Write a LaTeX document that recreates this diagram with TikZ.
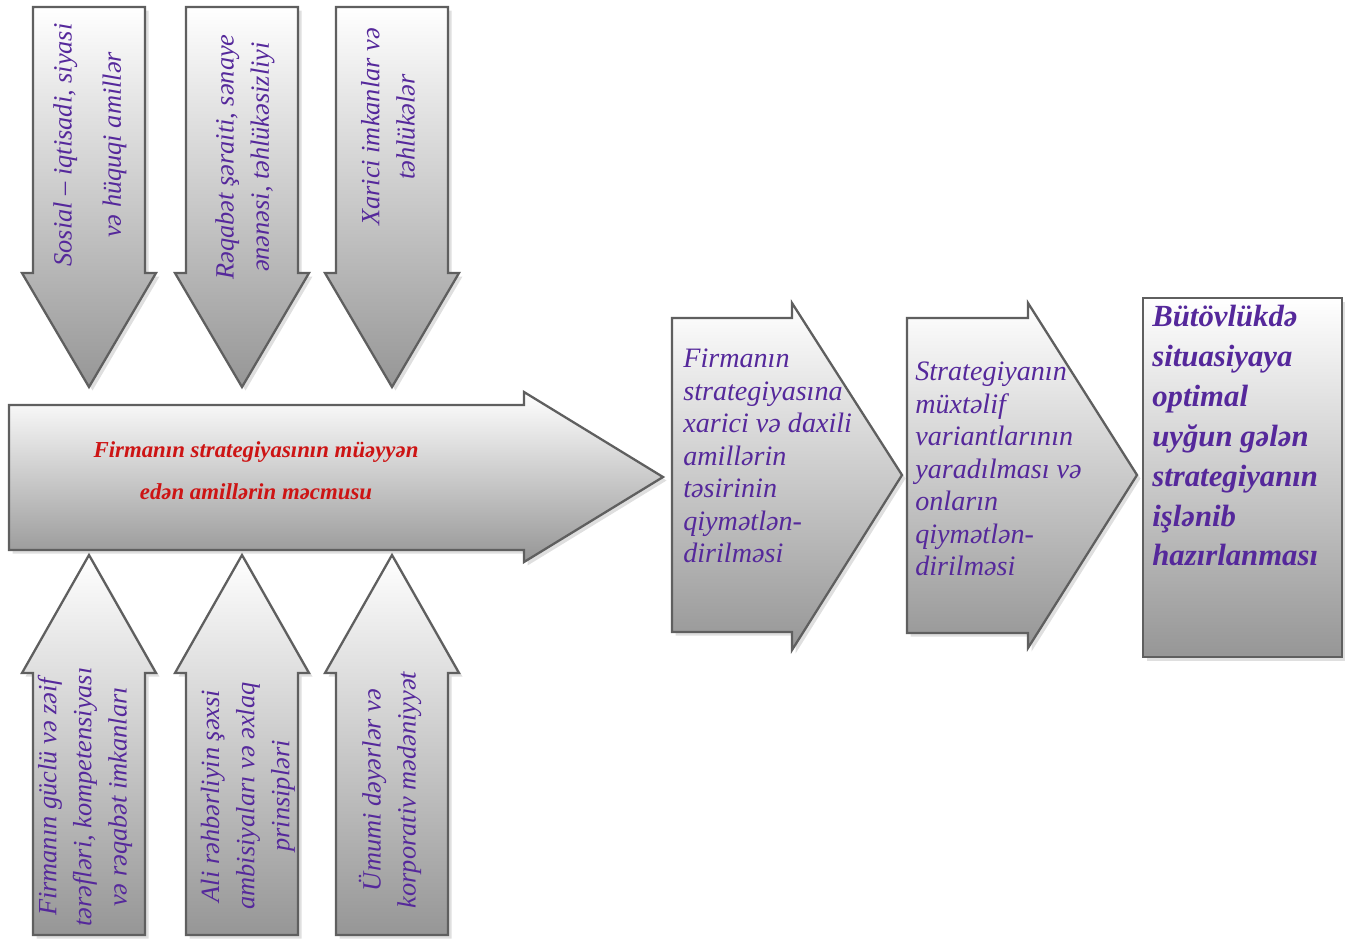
\documentclass[tikz,border=0pt]{standalone}
\usepackage{fontspec}
\setmainfont{Liberation Serif}
\usepackage{xcolor}
\usetikzlibrary{shadows}
\definecolor{ArrowEdge}{RGB}{95,95,95}
\definecolor{ArrowGray}{RGB}{150,150,150}
\definecolor{LabelViolet}{RGB}{85,40,155}
\definecolor{TitleRed}{RGB}{205,20,20}

\begin{document}
\begin{tikzpicture}[
          x=0.02cm, y=-0.02cm,
          arrowbody/.style={draw=ArrowEdge, line width=1.3pt, top color=white, bottom color=ArrowGray, drop shadow={opacity=0.25, shadow xshift=2pt, shadow yshift=-2pt}},
          vlabel/.style={rotate=90, align=center, text=LabelViolet, inner sep=0pt, font=\fontsize{15}{20}\selectfont\itshape},
          steplabel/.style={anchor=north west, align=left, text=LabelViolet, inner sep=0pt, font=\fontsize{16}{18.5}\selectfont\itshape},
          title/.style={align=center, text=TitleRed, inner sep=0pt, font=\fontsize{13}{24}\selectfont\bfseries\itshape}
        ]
          \useasboundingbox (0,0) rectangle (1345,944);
          % factors from above
          \foreach \xc in {89,242,392}
            \path[arrowbody] (\xc-56,7) -- (\xc+56,7) -- (\xc+56,273) -- (\xc+67,273)
              -- (\xc,387) -- (\xc-67,273) -- (\xc-56,273) -- cycle;
          % factors from below
          \foreach \xc in {89,242,392}
            \path[arrowbody] (\xc-56,935) -- (\xc+56,935) -- (\xc+56,673) -- (\xc+67,673)
              -- (\xc,555) -- (\xc-67,673) -- (\xc-56,673) -- cycle;
          % main arrow
          \path[arrowbody] (9,405) -- (524,405) -- (524,392) -- (663,477) -- (524,562)
            -- (524,550) -- (9,550) -- cycle;
          % steps
          \path[arrowbody] (672,318) -- (792,318) -- (792,303) -- (902,475) -- (792,650)
            -- (792,632) -- (672,632) -- cycle;
          \path[arrowbody] (907,318) -- (1028,318) -- (1028,303) -- (1137,475) -- (1028,648)
            -- (1028,633) -- (907,633) -- cycle;
          \path[arrowbody] (1143,298) rectangle (1342,657);

          \node (top1) [vlabel, font=\fontsize{15}{28}\selectfont\itshape] at (90,145) {Sosial – iqtisadi, siyasi\\ və hüquqi amillər};
          \node (top2) [vlabel] at (245,157) {Rəqabət şəraiti, sənaye\\ ənənəsi, təhlükəsizliyi};
          \node (top3) [vlabel] at (388,127) {Xarici imkanlar və\\ təhlükələr};
          \node (bot1) [vlabel] at (85,797) {Firmanın güclü və zəif\\ tərəfləri, kompetensiyası\\ və rəqabət imkanları};
          \node (bot2) [vlabel] at (248,796) {Ali rəhbərliyin şəxsi\\ ambisiyaları və əxlaq\\ prinsipləri};
          \node (bot3) [vlabel] at (390,790) {Ümumi dəyərlər və\\ korporativ mədəniyyət};

          \node (main) [title] at (256,471) {Firmanın strategiyasının müəyyən\\ edən amillərin məcmusu};

          \node (step1) [steplabel] at (683,349) {Firmanın\\ strategiyasına\\ xarici və daxili\\ amillərin\\ təsirinin\\ qiymətlən-\\ dirilməsi};
          \node (step2) [steplabel] at (915,362) {Strategiyanın\\ müxtəlif\\ variantlarının\\ yaradılması və\\ onların\\ qiymətlən-\\ dirilməsi};
          \node (step3) [steplabel, font=\fontsize{17.5}{22.7}\selectfont\bfseries\itshape] at (1152,305) {Bütövlükdə\\ situasiyaya\\ optimal\\ uyğun gələn\\ strategiyanın\\ işlənib\\ hazırlanması};
        \end{tikzpicture}
\end{document}
